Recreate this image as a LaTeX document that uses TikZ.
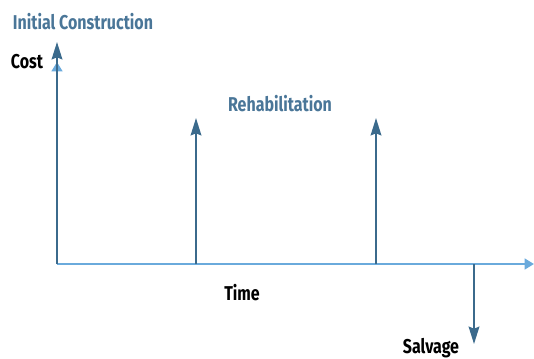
\documentclass[tikz,border=0pt]{standalone}
\usepackage{fontspec}
\setmainfont{Fira Sans}
\newfontfamily\dinfont[FakeStretch=0.8]{Fira Sans}
\usetikzlibrary{arrows.meta}
\definecolor{darkblue}{HTML}{3B6A8C}
\definecolor{lightblue}{HTML}{6AAADC}
\definecolor{labelblue}{HTML}{4A7698}
\tikzset{
  lbl/.style={font=\dinfont\fontsize{15}{17}\selectfont\bfseries, inner sep=0pt},
  axis/.style={lightblue, line width=2pt, -{Triangle[length=7pt,width=8pt]}},
  cash/.style={darkblue, line width=1.6pt, -{Stealth[length=13pt,width=8pt,inset=1.5pt]}}
}
\begin{document}
\begin{tikzpicture}[x=0.75pt,y=-0.75pt]
\useasboundingbox (0,0) rectangle (534,358);
% axes
\coordinate (O) at (57,264);
\coordinate (tend) at (534,264);
\coordinate (cend) at (57,62);
\draw[axis] (O) -- (cend);
\draw[axis] (O) -- (tend);

% cash flows
\coordinate (r1) at (196,264);
\coordinate (r2) at (376,264);
\coordinate (sv) at (474,264);
\draw[cash] (O) -- (57,42);
\draw[cash] (r1) -- (196,118);
\draw[cash] (r2) -- (376,118);
\draw[cash] (sv) -- (474,344);

% labels
\node[lbl, labelblue] (init) at (83,22) {Initial Construction};
\node[lbl] (cost) at (27,62) {Cost};
\node[lbl, labelblue] (rehab) at (280,104) {Rehabilitation};
\node[lbl] (time) at (242,293) {Time};
\node[lbl] (salv) at (431,348) {Salvage};
\end{tikzpicture}
\end{document}
